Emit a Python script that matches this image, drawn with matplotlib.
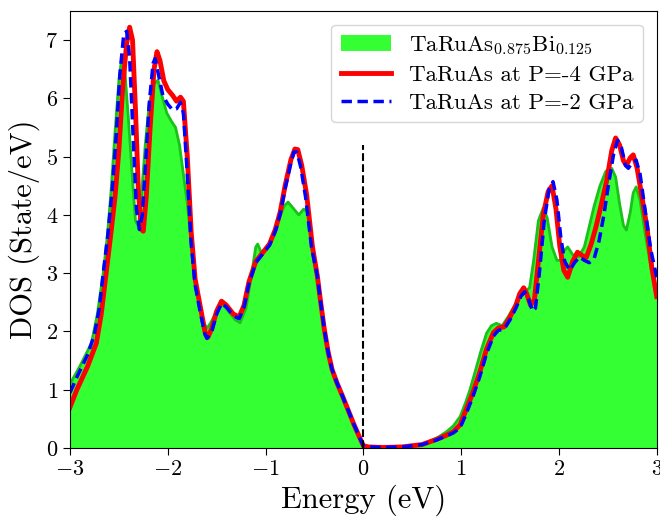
import numpy as np
import matplotlib
matplotlib.use("Agg")
import matplotlib.pyplot as plt

plt.rcParams["font.family"] = "cmr10"
plt.rcParams["mathtext.fontset"] = "cm"
plt.rcParams["axes.formatter.use_mathtext"] = True

# TaRuAs0.875Bi0.125 (filled)
e_bi = [-3.00, -2.90, -2.78, -2.72, -2.66, -2.62, -2.58, -2.54, -2.50, -2.47, -2.44,
        -2.40, -2.36, -2.33, -2.30, -2.27, -2.23, -2.19, -2.14, -2.10, -2.06, -2.01, -1.96,
        -1.92, -1.88, -1.84, -1.80, -1.76, -1.72, -1.68, -1.63, -1.60, -1.56, -1.50, -1.44,
        -1.38, -1.31, -1.26, -1.20, -1.15, -1.10, -1.08, -1.04, -0.98, -0.93, -0.87, -0.81,
        -0.77, -0.72, -0.66, -0.61, -0.57, -0.52, -0.47, -0.44, -0.40, -0.36, -0.32, -0.27,
        -0.21, -0.15, -0.10, -0.04, 0.00, 0.05, 0.20, 0.40, 0.60, 0.75, 0.85, 0.92,
        0.99, 1.05, 1.09, 1.15, 1.20, 1.26, 1.31, 1.36, 1.42, 1.48, 1.55, 1.60,
        1.65, 1.70, 1.74, 1.79, 1.84, 1.88, 1.93, 1.98, 2.01, 2.05, 2.09, 2.14,
        2.20, 2.26, 2.31, 2.36, 2.42, 2.48, 2.54, 2.58, 2.62, 2.66, 2.69, 2.73,
        2.76, 2.79, 2.83, 2.88, 2.94, 3.00]
dos_bi = [1.10, 1.40, 1.80, 2.30, 3.00, 3.60, 4.40, 5.40, 6.30, 6.70, 6.50,
          5.60, 4.60, 3.90, 3.80, 4.30, 5.20, 5.90, 6.25, 6.31, 6.05, 5.75, 5.60,
          5.50, 5.20, 4.70, 4.20, 3.50, 2.90, 2.50, 2.15, 2.05, 2.15, 2.35, 2.47,
          2.35, 2.20, 2.15, 2.40, 2.90, 3.45, 3.50, 3.34, 3.45, 3.62, 3.90, 4.15,
          4.22, 4.12, 4.00, 4.10, 4.05, 3.45, 2.95, 2.55, 2.05, 1.65, 1.35, 1.12,
          0.88, 0.63, 0.42, 0.19, 0.04, 0.02, 0.01, 0.02, 0.06, 0.17, 0.28, 0.38,
          0.54, 0.80, 1.00, 1.35, 1.65, 1.97, 2.10, 2.14, 2.10, 2.25, 2.45, 2.60,
          2.68, 2.75, 3.20, 3.90, 4.12, 3.95, 3.45, 3.22, 3.22, 3.38, 3.45, 3.32,
          3.28, 3.45, 3.80, 4.15, 4.50, 4.75, 4.80, 4.65, 4.20, 3.82, 3.74, 4.05,
          4.38, 4.48, 4.25, 3.70, 3.10, 2.59]

# TaRuAs at P = -4 GPa
e_m4 = [-3.00, -2.93, -2.82, -2.73, -2.68, -2.63, -2.58, -2.54, -2.50, -2.46, -2.42, -2.39,
        -2.36, -2.33, -2.30, -2.27, -2.25, -2.22, -2.18, -2.14, -2.11, -2.08, -2.04, -2.00,
        -1.95, -1.91, -1.87, -1.84, -1.80, -1.76, -1.72, -1.67, -1.62, -1.59, -1.55, -1.50,
        -1.45, -1.40, -1.33, -1.27, -1.22, -1.17, -1.10, -1.03, -0.96, -0.90, -0.85, -0.80,
        -0.74, -0.70, -0.67, -0.63, -0.58, -0.52, -0.47, -0.44, -0.40, -0.36, -0.32, -0.27,
        -0.21, -0.15, -0.10, -0.04, 0.00, 0.05, 0.20, 0.40, 0.60, 0.75, 0.85, 0.92,
        0.99, 1.05, 1.12, 1.19, 1.26, 1.33, 1.38, 1.44, 1.50, 1.56, 1.60, 1.64,
        1.67, 1.71, 1.75, 1.79, 1.84, 1.89, 1.93, 1.97, 2.01, 2.05, 2.09, 2.14,
        2.19, 2.24, 2.28, 2.33, 2.38, 2.43, 2.49, 2.54, 2.58, 2.62, 2.66, 2.69,
        2.73, 2.76, 2.80, 2.85, 2.90, 2.95, 3.00]
dos_m4 = [0.70, 1.00, 1.40, 1.80, 2.30, 3.00, 3.70, 4.30, 5.10, 6.20, 6.95, 7.22,
          7.00, 5.80, 4.40, 3.75, 3.72, 4.30, 5.50, 6.50, 6.80, 6.65, 6.30, 6.15,
          6.05, 5.95, 6.02, 5.95, 5.00, 3.70, 2.90, 2.45, 2.00, 1.90, 2.05, 2.35,
          2.52, 2.45, 2.30, 2.25, 2.45, 2.85, 3.20, 3.35, 3.50, 3.75, 4.05, 4.50,
          4.95, 5.13, 5.12, 4.85, 4.35, 3.45, 2.95, 2.55, 2.05, 1.65, 1.35, 1.12,
          0.88, 0.63, 0.42, 0.19, 0.04, 0.02, 0.01, 0.02, 0.06, 0.15, 0.22, 0.28,
          0.40, 0.65, 0.95, 1.30, 1.70, 1.98, 2.06, 2.08, 2.25, 2.45, 2.65, 2.75,
          2.65, 2.45, 2.55, 3.20, 4.00, 4.40, 4.50, 4.10, 3.45, 3.05, 2.93, 3.20,
          3.36, 3.30, 3.27, 3.50, 3.80, 4.15, 4.60, 5.10, 5.32, 5.20, 4.93, 4.85,
          4.98, 5.03, 4.80, 4.30, 3.79, 3.10, 2.60]

# TaRuAs at P = -2 GPa
e_m2 = [-3.00, -2.92, -2.82, -2.75, -2.70, -2.66, -2.61, -2.57, -2.53, -2.49, -2.45, -2.42,
        -2.39, -2.35, -2.32, -2.29, -2.26, -2.23, -2.19, -2.15, -2.13, -2.10, -2.05, -2.00,
        -1.95, -1.91, -1.87, -1.84, -1.80, -1.76, -1.72, -1.67, -1.62, -1.60, -1.55, -1.50,
        -1.45, -1.40, -1.33, -1.27, -1.22, -1.17, -1.10, -1.03, -0.96, -0.90, -0.85, -0.80,
        -0.74, -0.71, -0.68, -0.64, -0.59, -0.53, -0.47, -0.44, -0.40, -0.36, -0.32, -0.27,
        -0.21, -0.15, -0.10, -0.04, 0.00, 0.05, 0.20, 0.40, 0.60, 0.75, 0.85, 0.92,
        0.99, 1.05, 1.12, 1.19, 1.26, 1.33, 1.38, 1.44, 1.50, 1.56, 1.61, 1.65,
        1.69, 1.73, 1.76, 1.80, 1.85, 1.90, 1.94, 1.98, 2.02, 2.06, 2.11, 2.16,
        2.21, 2.26, 2.31, 2.36, 2.41, 2.46, 2.51, 2.56, 2.60, 2.64, 2.68, 2.71,
        2.75, 2.79, 2.83, 2.88, 2.94, 3.00]
dos_m2 = [0.95, 1.25, 1.60, 1.95, 2.40, 3.00, 3.70, 4.40, 5.30, 6.40, 7.10, 7.15,
          6.70, 5.20, 4.10, 3.75, 4.00, 4.80, 5.90, 6.60, 6.68, 6.45, 6.05, 5.90,
          5.80, 5.82, 5.93, 5.75, 4.70, 3.50, 2.80, 2.35, 1.95, 1.88, 2.00, 2.30,
          2.48, 2.42, 2.27, 2.22, 2.42, 2.82, 3.18, 3.33, 3.48, 3.72, 4.02, 4.45,
          4.90, 5.08, 5.08, 4.82, 4.30, 3.45, 2.95, 2.55, 2.05, 1.65, 1.35, 1.12,
          0.88, 0.63, 0.42, 0.19, 0.04, 0.02, 0.01, 0.02, 0.06, 0.14, 0.21, 0.26,
          0.35, 0.58, 0.88, 1.22, 1.62, 1.92, 2.02, 2.04, 2.20, 2.40, 2.60, 2.68,
          2.55, 2.35, 2.40, 3.00, 3.90, 4.45, 4.57, 4.25, 3.60, 3.20, 3.05, 3.18,
          3.28, 3.22, 3.18, 3.25, 3.55, 4.00, 4.55, 5.05, 5.28, 5.15, 4.85, 4.80,
          4.90, 4.94, 4.70, 4.10, 3.40, 2.93]

fig = plt.figure(figsize=(6.6, 5.18), dpi=100)
ax = fig.add_axes([0.106, 0.135, 0.889, 0.844])

ax.fill_between(e_bi, 0, dos_bi, color="#33ff33", linewidth=0,
                label=r"TaRuAs$_{0.875}$Bi$_{0.125}$")
ax.plot(e_bi, dos_bi, color="#19c119", linewidth=2)
ax.plot(e_m4, dos_m4, color="red", linewidth=3.5, label="TaRuAs at P=-4 GPa")
ax.plot(e_m2, dos_m2, color="blue", linewidth=2.5, linestyle=(0, (3, 1.6)),
        label="TaRuAs at P=-2 GPa")

# Fermi level
ax.vlines(0, 0, 5.2, colors="black", linestyles="--", linewidth=1.5)

ax.set_xlim(-3, 3)
ax.set_ylim(0, 7.5)
ax.set_xticks([-3, -2, -1, 0, 1, 2, 3])
ax.set_yticks(range(0, 8))
ax.tick_params(labelsize=16, direction="out", length=5)
ax.set_xlabel("Energy (eV)", fontsize=22)
ax.set_ylabel("DOS (State/eV)", fontsize=22)

ax.legend(loc="upper right", fontsize=16.5, handlelength=2.2,
          borderaxespad=0.6, labelspacing=0.35)

plt.savefig("out.png", dpi=100)
plt.close()
